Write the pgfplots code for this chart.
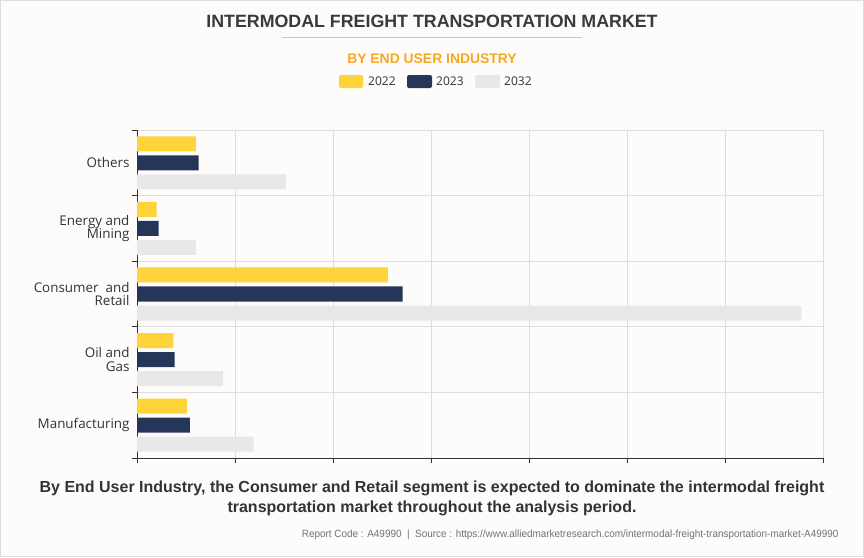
\documentclass[border=0pt]{standalone}
\usepackage{fontspec}
\setmainfont{Open Sans}
\newfontfamily\arialf{Liberation Sans}
\newfontfamily\arialn[FakeStretch=0.946]{Liberation Sans}
\usepackage{pgfplots}
\pgfplotsset{compat=1.18}
\definecolor{cy}{HTML}{FFD43B}
\definecolor{cn}{HTML}{253659}
\definecolor{cg}{HTML}{E8E8E8}
\definecolor{bgc}{HTML}{FDFCFB}
\definecolor{grd}{HTML}{DDDDDD}
\definecolor{org}{HTML}{F7A823}
\definecolor{txt}{HTML}{333333}
\definecolor{ttl}{HTML}{3A3A3A}
\begin{document}
\begin{tikzpicture}[x=1pt,y=1pt]
\fill[bgc] (0,0) rectangle (864,-557);
\draw[color=grd, line width=1pt] (0.5,-0.5) rectangle (863.5,-556.5);
\node[font=\arialf\bfseries\fontsize{17.8}{18}\selectfont, text=ttl] at (432,-21) {INTERMODAL FREIGHT TRANSPORTATION MARKET};
\draw[color=black!22, line width=0.8pt] (282,-37) -- (582,-37);
\node[font=\arialf\bfseries\fontsize{13.9}{14}\selectfont, text=org] at (432,-58.5) {BY END USER INDUSTRY};
% legend
\fill[cy, rounded corners=2pt] (339,-75) rectangle (363,-88);
\node[anchor=west, font=\fontsize{12}{12}\selectfont, text=txt, inner sep=0pt] at (368,-81.5) {2022};
\fill[cn, rounded corners=2pt] (407,-75) rectangle (432,-88);
\node[anchor=west, font=\fontsize{12}{12}\selectfont, text=txt, inner sep=0pt] at (436,-81.5) {2023};
\fill[cg, rounded corners=2pt] (475,-75) rectangle (500,-88);
\node[anchor=west, font=\fontsize{12}{12}\selectfont, text=txt, inner sep=0pt] at (504,-81.5) {2032};
\begin{axis}[
  at={(137pt,-458pt)}, anchor=south west,
  scale only axis, width=686pt, height=328pt,
  xmin=0, xmax=7, ymin=-0.5, ymax=4.5,
  xbar, bar width=0.229,
  axis x line*=bottom, axis y line*=left,
  axis line style={color=black!80, line width=0.9pt},
  xtick={0,...,7}, xticklabels={},
  ytick={-0.5,0.5,...,4.5}, yticklabels={},
  xmajorgrids, ymajorgrids,
  grid style={color=grd, line width=0.9pt},
  tick align=outside, major tick length=5pt,
  tick style={color=black!80, line width=0.9pt},
  extra y ticks={0,1,2,3,4},
  extra y tick labels={Manufacturing,{Oil and\\Gas},{Consumer~ and\\Retail},{Energy and\\Mining},Others},
  extra y tick style={major tick length=0pt, grid=none,
     yticklabel style={align=right, font=\fontsize{13.4}{13.5}\selectfont, text=txt, xshift=-4pt}},
]
\addplot[fill=cy, draw=none, bar shift=0.29] coordinates {(0.51,0) (0.37,1) (2.56,2) (0.20,3) (0.60,4)};
\addplot[fill=cn, draw=none, bar shift=0] coordinates {(0.54,0) (0.385,1) (2.71,2) (0.22,3) (0.63,4)};
\addplot[fill=cg, draw=none, bar shift=-0.29] coordinates {(1.19,0) (0.875,1) (6.78,2) (0.60,3) (1.52,4)};
\end{axis}
\node[align=center, font=\arialf\bfseries\fontsize{16}{20}\selectfont, text=txt] at (432,-498) {By End User Industry, the Consumer and Retail segment is expected to dominate the intermodal freight\\transportation market throughout the analysis period.};
\node[anchor=east, font=\arialn\fontsize{10.5}{11}\selectfont, text=black!55] at (842,-535) {Report Code : A49990 ~|~ Source : https://www.alliedmarketresearch.com/intermodal-freight-transportation-market-A49990};
\end{tikzpicture}
\end{document}
